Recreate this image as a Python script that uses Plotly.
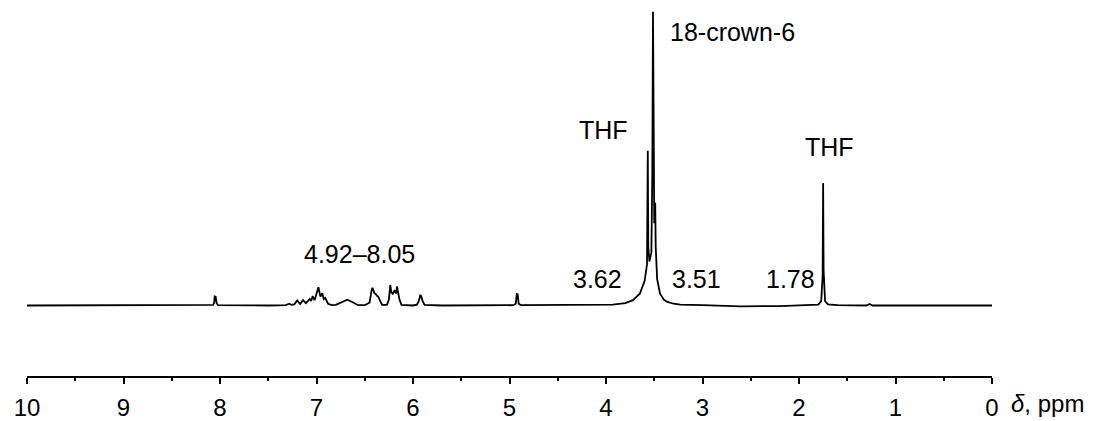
import plotly.graph_objects as go

# chemical shift (ppm) and intensity (arbitrary units)
shift = [10.0, 9.0, 8.10, 8.07, 8.06, 8.055, 8.045, 8.035, 8.02, 7.8, 7.5,
         7.32, 7.28, 7.26, 7.23, 7.20, 7.17, 7.14, 7.11, 7.07, 7.055, 7.04,
         7.02, 7.00, 6.98, 6.96, 6.94, 6.925, 6.91, 6.88, 6.84, 6.80, 6.74,
         6.68, 6.62, 6.57, 6.50, 6.45, 6.43, 6.42, 6.40, 6.39, 6.37, 6.36,
         6.34, 6.32, 6.27, 6.25, 6.235, 6.225, 6.21, 6.19, 6.175, 6.165,
         6.155, 6.14, 6.12, 6.0, 5.96, 5.94, 5.925, 5.915, 5.90, 5.88, 5.7,
         5.3, 4.96, 4.935, 4.925, 4.915, 4.905, 4.88, 4.5, 4.2, 3.93, 3.80,
         3.72, 3.65, 3.60, 3.575, 3.567, 3.562, 3.55, 3.53, 3.52, 3.513,
         3.507, 3.50, 3.49, 3.485, 3.47, 3.44, 3.40, 3.37, 3.30, 3.23, 3.0,
         2.6, 2.2, 1.9, 1.80, 1.77, 1.755, 1.75, 1.745, 1.73, 1.70, 1.6,
         1.30, 1.27, 1.24, 1.0, 0.5, 0.0]
intensity = [0, 0, 0, 0.2, 1.0, 3.1, 3.0, 0.8, 0.1, 0, 0,
             0.1, 0.6, 0.2, 0.4, 1.7, 0.5, 1.8, 0.8, 2.2, 1.5, 3.2,
             1.8, 4.0, 6.2, 3.0, 4.2, 2.2, 2.6, 0.6, 0.1, 0.2, 1.2,
             2.0, 1.0, 0.1, 0.1, 1.0, 5.0, 6.0, 4.2, 4.0, 3.2, 3.0,
             1.5, 0.2, 0.2, 2.0, 7.0, 4.5, 4.0, 5.2, 4.0, 6.5,
             4.5, 2.0, 0.2, 0, 0.3, 1.5, 3.4, 3.2, 1.5, 0.2, 0,
             0, 0.1, 0.6, 3.9, 3.8, 0.6, 0.1, 0.1, 0.2, 0.3, 0.8,
             1.8, 4.0, 8.3, 14, 52.7, 20, 15, 18, 45, 100,
             60, 28, 35, 20, 9, 4, 2, 1.3, 0.6, 0.3, 0.1,
             -0.3, -0.2, 0, 0.3, 1.5, 10, 41.7, 12, 1.5, 0.4, 0.1,
             0, 0.5, 0, 0, 0, 0]

tick_vals = [10, 9, 8, 7, 6, 5, 4, 3, 2, 1, 0]
tick_text = [str(v) for v in tick_vals]

# peak labels: (text, x ppm, y intensity, xanchor)
labels = [
    ("18-crown-6", 3.36, 93, "left"),
    ("THF", 4.03, 59.7, "center"),
    ("THF", 1.68, 54, "center"),
    ("4.92–8.05", 6.55, 17.5, "center"),
    ("3.62", 4.09, 9.0, "center"),
    ("3.51", 3.06, 9.0, "center"),
    ("1.78", 2.09, 9.0, "center"),
]

FONT = "Liberation Sans, Arial, sans-serif"

fig = go.Figure()
fig.add_trace(go.Scatter(x=shift, y=intensity, mode="lines",
                         line=dict(color="black", width=1.8),
                         hoverinfo="skip", showlegend=False))

for text, x, y, xa in labels:
    fig.add_annotation(text=text, x=x, y=y, xref="x", yref="y",
                       xanchor=xa, yanchor="middle", showarrow=False,
                       font=dict(family=FONT, size=25, color="black"))

fig.add_annotation(text="<i>δ</i>, ppm", x=1.018, y=-0.072, xref="paper",
                   yref="paper", xanchor="left", yanchor="middle",
                   showarrow=False,
                   font=dict(family=FONT, size=24, color="black"))

fig.update_layout(
    width=1114, height=421,
    margin=dict(l=27, r=122, t=0, b=37),
    paper_bgcolor="white", plot_bgcolor="white",
    xaxis=dict(range=[10, 0], tickvals=tick_vals, ticktext=tick_text,
               showgrid=False, zeroline=False, showline=True,
               linecolor="black", linewidth=2, ticks="outside",
               ticklen=6, tickwidth=1.5, tickcolor="black",
               ticklabelstandoff=3,
               minor=dict(dtick=0.5, ticks="outside", ticklen=3,
                          tickwidth=1.5, tickcolor="black"),
               tickfont=dict(family=FONT, size=24, color="black")),
    yaxis=dict(range=[-24, 104], visible=False),
)

fig.write_html("out.html")
